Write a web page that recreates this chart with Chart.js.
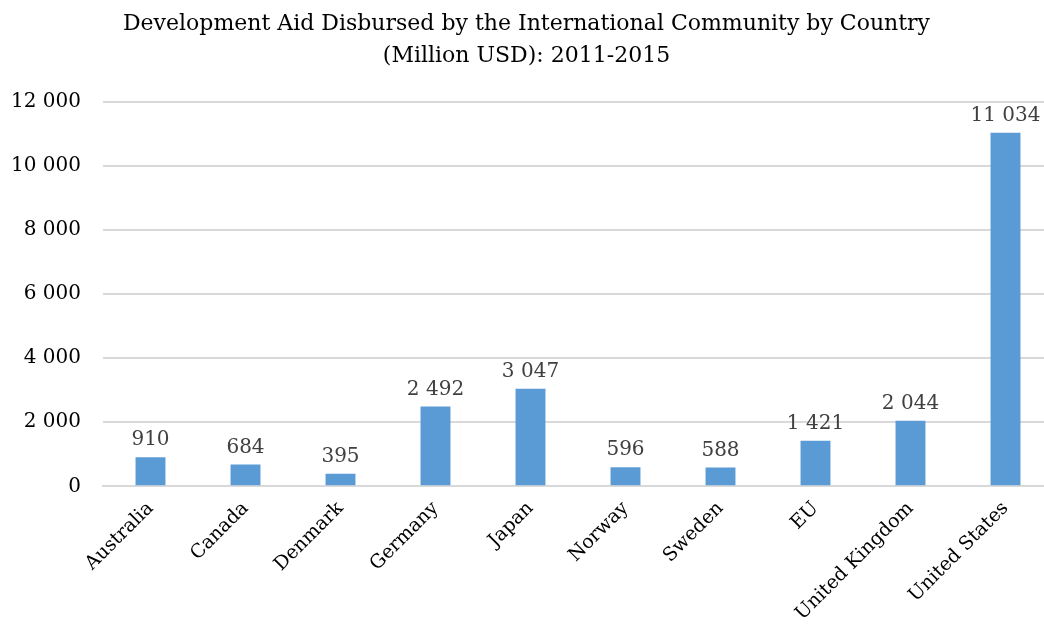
<!DOCTYPE html>
<html>
<head>
<meta charset="utf-8">
<script src="https://cdn.jsdelivr.net/npm/chart.js@4"></script>
<style>
  html, body { margin: 0; padding: 0; background: #fff; overflow: hidden; }
  #wrap { position: relative; width: 1072px; height: 636px; }
</style>
</head>
<body>
<div id="wrap"><canvas id="barChart"></canvas></div>
<script>
const countries = ["Australia", "Canada", "Denmark", "Germany", "Japan", "Norway", "Sweden", "EU", "United Kingdom", "United States"];
const aidMillions = [910, 684, 395, 2492, 3047, 596, 588, 1421, 2044, 11034];
const yTicks = [0, 2000, 4000, 6000, 8000, 10000, 12000];

const FONT = "'DejaVu Serif', 'Liberation Serif', serif";

function spaced(n) {
  return String(n).replace(/\B(?=(\d{3})+(?!\d))/g, " ");
}

// draws the value above each bar
const valueLabels = {
  id: "valueLabels",
  afterDatasetsDraw(chart) {
    const ctx = chart.ctx;
    const meta = chart.getDatasetMeta(0);
    ctx.save();
    ctx.font = "20px " + FONT;
    ctx.fillStyle = "#404040";
    ctx.textAlign = "center";
    ctx.textBaseline = "bottom";
    meta.data.forEach(function (bar, i) {
      ctx.fillText(spaced(aidMillions[i]), bar.x, bar.y - 7);
    });
    ctx.restore();
  },
};

document.addEventListener("DOMContentLoaded", function () {
  const ctx = document.getElementById("barChart").getContext("2d");

  new Chart(ctx, {
    type: "bar",
    data: {
      labels: countries,
      datasets: [
        {
          data: aidMillions,
          backgroundColor: "#5b9bd5",
          barPercentage: 0.63,
          categoryPercentage: 0.5,
        },
      ],
    },
    options: {
      responsive: true,
      maintainAspectRatio: false,
      animation: false,
      layout: { padding: { top: 8, right: 19, left: 0, bottom: 0 } },
      plugins: {
        legend: { display: false },
        tooltip: { enabled: false },
        title: {
          display: true,
          text: ["Development Aid Disbursed by the International Community by Country", "(Million USD): 2011-2015"],
          color: "#000",
          font: { family: FONT, size: 22, weight: "normal", lineHeight: 1.45 },
          padding: { top: 0, bottom: 30 },
          align: "center",
        },
      },
      scales: {
        x: {
          grid: { display: false, drawTicks: false },
          border: { color: "#d9d9d9", width: 2 },
          ticks: {
            color: "#000",
            font: { family: FONT, size: 19 },
            maxRotation: 45,
            minRotation: 45,
            padding: 11,
          },
        },
        y: {
          min: 0,
          max: 12000,
          afterBuildTicks: function (scale) {
            scale.ticks = yTicks.map(function (v) { return { value: v }; });
          },
          afterFit: function (scale) { scale.width = 103; },
          grid: { color: "#d9d9d9", lineWidth: 2, drawTicks: false },
          border: { display: false },
          ticks: {
            color: "#000",
            font: { family: FONT, size: 20 },
            padding: 22,
            callback: function (v) { return spaced(v); },
          },
        },
      },
    },
    plugins: [valueLabels],
  });
});
</script>
</body>
</html>
